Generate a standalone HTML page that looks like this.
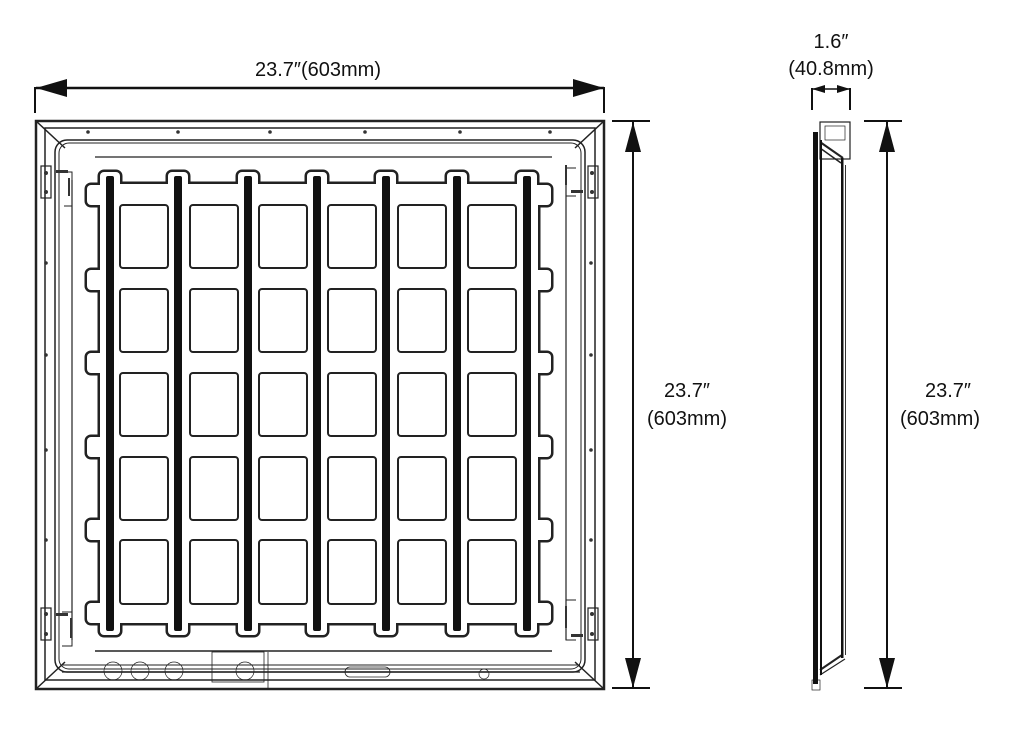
<!DOCTYPE html>
<html><head><meta charset="utf-8"><style>
html,body{margin:0;padding:0;background:#fff;}
svg{display:block;}
text{font-family:"Liberation Sans",sans-serif;font-size:20px;fill:#111;}
</style></head><body>
<svg width="1024" height="740" viewBox="0 0 1024 740" xmlns="http://www.w3.org/2000/svg">
<!-- top dimension -->
<text x="318" y="76" text-anchor="middle">23.7″(603mm)</text>
<line x1="36" y1="88" x2="604" y2="88" stroke="#111" stroke-width="2.5"/>
<polygon points="36,88 67,79 67,97" fill="#111"/>
<polygon points="604,88 573,79 573,97" fill="#111"/>
<line x1="35" y1="87" x2="35" y2="113" stroke="#111" stroke-width="2"/>
<line x1="604" y1="87" x2="604" y2="113" stroke="#111" stroke-width="2"/>

<!-- right dimension -->
<line x1="633" y1="122" x2="633" y2="688" stroke="#111" stroke-width="2"/>
<line x1="612" y1="121" x2="650" y2="121" stroke="#111" stroke-width="2"/>
<line x1="612" y1="688" x2="650" y2="688" stroke="#111" stroke-width="2"/>
<polygon points="633,122 625,152 641,152" fill="#111"/>
<polygon points="633,688 625,658 641,658" fill="#111"/>
<text x="687" y="397" text-anchor="middle">23.7″</text>
<text x="687" y="425" text-anchor="middle">(603mm)</text>

<!-- frame -->
<g fill="none" stroke="#222">
<rect x="36" y="121" width="568" height="568" stroke-width="2.5"/>
<rect x="45" y="128" width="550" height="552" stroke-width="1.5"/>
<line x1="36" y1="121" x2="65" y2="148" stroke-width="1.5"/>
<line x1="604" y1="121" x2="575" y2="148" stroke-width="1.5"/>
<line x1="36" y1="689" x2="65" y2="662" stroke-width="1.5"/>
<line x1="604" y1="689" x2="575" y2="662" stroke-width="1.5"/>
<rect x="55" y="140" width="530" height="532" rx="12" stroke-width="1.5"/>
<rect x="59" y="143" width="522" height="526" rx="10" stroke-width="1"/>
<line x1="95" y1="157" x2="552" y2="157" stroke-width="1.2"/>
<line x1="72" y1="180" x2="72" y2="640" stroke-width="1.2"/>
<line x1="566" y1="180" x2="566" y2="640" stroke-width="1.2"/>
<line x1="95" y1="651" x2="552" y2="651" stroke-width="1.5"/>
<line x1="62" y1="665" x2="580" y2="665" stroke-width="1"/>
<line x1="62" y1="672" x2="580" y2="672" stroke-width="1.2"/>
<line x1="70" y1="680" x2="570" y2="680" stroke-width="1"/>
<rect x="212" y="652" width="52" height="30" stroke-width="0.8"/>
<line x1="268" y1="652" x2="268" y2="688" stroke-width="0.8"/>
<circle cx="113" cy="671" r="9" stroke-width="0.7"/>
<circle cx="140" cy="671" r="9" stroke-width="0.7"/>
<circle cx="174" cy="671" r="9" stroke-width="0.7"/>
<circle cx="245" cy="671" r="9" stroke-width="0.7"/>
<rect x="345" y="667" width="45" height="10" rx="5" stroke-width="0.8"/>
<circle cx="484" cy="674" r="5" stroke-width="0.7"/>
<!-- brackets -->
<rect x="41" y="166" width="10" height="32" stroke-width="1.2"/>
<rect x="41" y="608" width="10" height="32" stroke-width="1.2"/>
<rect x="588" y="166" width="10" height="32" stroke-width="1.2"/>
<rect x="588" y="608" width="10" height="32" stroke-width="1.2"/>
<path d="M62 172 L72 172 L72 206 L64 206" stroke-width="1"/>
<path d="M576 168 L566 168 L566 196 L576 196" stroke-width="1"/>
<path d="M62 612 L72 612 L72 646 L62 646" stroke-width="1"/>
<path d="M576 600 L566 600 L566 640 L576 640" stroke-width="1"/>
</g>
<g fill="#333">
<circle cx="88" cy="132" r="1.8"/><circle cx="178" cy="132" r="1.8"/><circle cx="270" cy="132" r="1.8"/>
<circle cx="460" cy="132" r="1.8"/><circle cx="550" cy="132" r="1.8"/><circle cx="365" cy="132" r="1.8"/>
<circle cx="46" cy="263" r="1.8"/><circle cx="46" cy="355" r="1.8"/><circle cx="46" cy="450" r="1.8"/><circle cx="46" cy="540" r="1.8"/>
<circle cx="591" cy="263" r="1.8"/><circle cx="591" cy="355" r="1.8"/><circle cx="591" cy="450" r="1.8"/><circle cx="591" cy="540" r="1.8"/>
<circle cx="46" cy="173" r="2"/><circle cx="46" cy="192" r="2"/><circle cx="592" cy="173" r="2"/><circle cx="592" cy="192" r="2"/>
<circle cx="46" cy="614" r="2"/><circle cx="46" cy="634" r="2"/><circle cx="592" cy="614" r="2"/><circle cx="592" cy="634" r="2"/>
<rect x="56" y="170" width="12" height="3"/><rect x="571" y="190" width="12" height="3"/>
<rect x="56" y="613" width="12" height="3"/><rect x="571" y="634" width="12" height="3"/>
<rect x="68" y="178" width="2" height="18"/><rect x="565" y="165" width="2" height="20"/>
<rect x="70" y="618" width="2" height="20"/><rect x="565" y="606" width="2" height="22"/>
</g>

<!-- grid outline: union via stroke trick -->
<g id="gshape" stroke="#222" stroke-width="5" fill="#222">
<rect x="100" y="184" width="438" height="439" rx="6"/>
<rect x="100" y="172" width="20" height="463" rx="4"/>
<rect x="168" y="172" width="20" height="463" rx="4"/>
<rect x="238" y="172" width="20" height="463" rx="4"/>
<rect x="307" y="172" width="20" height="463" rx="4"/>
<rect x="376" y="172" width="20" height="463" rx="4"/>
<rect x="447" y="172" width="20" height="463" rx="4"/>
<rect x="517" y="172" width="20" height="463" rx="4"/>
<rect x="87" y="185" width="20" height="20" rx="4"/><rect x="87" y="270" width="20" height="20" rx="4"/>
<rect x="87" y="353" width="20" height="20" rx="4"/><rect x="87" y="437" width="20" height="20" rx="4"/>
<rect x="87" y="520" width="20" height="20" rx="4"/><rect x="87" y="603" width="20" height="20" rx="4"/>
<rect x="531" y="185" width="20" height="20" rx="4"/><rect x="531" y="270" width="20" height="20" rx="4"/>
<rect x="531" y="353" width="20" height="20" rx="4"/><rect x="531" y="437" width="20" height="20" rx="4"/>
<rect x="531" y="520" width="20" height="20" rx="4"/><rect x="531" y="603" width="20" height="20" rx="4"/>
</g>
<g fill="#fff">
<rect x="100" y="184" width="438" height="439" rx="6"/>
<rect x="100" y="172" width="20" height="463" rx="4"/>
<rect x="168" y="172" width="20" height="463" rx="4"/>
<rect x="238" y="172" width="20" height="463" rx="4"/>
<rect x="307" y="172" width="20" height="463" rx="4"/>
<rect x="376" y="172" width="20" height="463" rx="4"/>
<rect x="447" y="172" width="20" height="463" rx="4"/>
<rect x="517" y="172" width="20" height="463" rx="4"/>
<rect x="87" y="185" width="20" height="20" rx="4"/><rect x="87" y="270" width="20" height="20" rx="4"/>
<rect x="87" y="353" width="20" height="20" rx="4"/><rect x="87" y="437" width="20" height="20" rx="4"/>
<rect x="87" y="520" width="20" height="20" rx="4"/><rect x="87" y="603" width="20" height="20" rx="4"/>
<rect x="531" y="185" width="20" height="20" rx="4"/><rect x="531" y="270" width="20" height="20" rx="4"/>
<rect x="531" y="353" width="20" height="20" rx="4"/><rect x="531" y="437" width="20" height="20" rx="4"/>
<rect x="531" y="520" width="20" height="20" rx="4"/><rect x="531" y="603" width="20" height="20" rx="4"/>
</g>
<!-- bars -->
<g fill="#111">
<rect x="106" y="176" width="8" height="455" rx="2"/>
<rect x="174" y="176" width="8" height="455" rx="2"/>
<rect x="244" y="176" width="8" height="455" rx="2"/>
<rect x="313" y="176" width="8" height="455" rx="2"/>
<rect x="382" y="176" width="8" height="455" rx="2"/>
<rect x="453" y="176" width="8" height="455" rx="2"/>
<rect x="523" y="176" width="8" height="455" rx="2"/>
</g>
<!-- squares -->
<g fill="none" stroke="#222" stroke-width="2">
<g id="col">
<rect x="120" y="205" width="48" height="63" rx="3"/>
<rect x="120" y="289" width="48" height="63" rx="3"/>
<rect x="120" y="373" width="48" height="63" rx="3"/>
<rect x="120" y="457" width="48" height="63" rx="3"/>
<rect x="120" y="540" width="48" height="64" rx="3"/>
</g>
<use href="#col" x="70"/>
<use href="#col" x="139"/>
<use href="#col" x="208"/>
<use href="#col" x="278"/>
<use href="#col" x="348"/>
</g>

<!-- side view -->
<text x="831" y="48" text-anchor="middle">1.6″</text>
<text x="831" y="75" text-anchor="middle">(40.8mm)</text>
<line x1="812" y1="88" x2="812" y2="110" stroke="#111" stroke-width="2"/>
<line x1="850" y1="88" x2="850" y2="110" stroke="#111" stroke-width="2"/>
<line x1="812" y1="89" x2="850" y2="89" stroke="#111" stroke-width="1.5"/>
<polygon points="812,89 825,85 825,93" fill="#111"/>
<polygon points="850,89 837,85 837,93" fill="#111"/>
<g fill="none" stroke="#222">
<rect x="820" y="122" width="30" height="37" stroke-width="1.2"/>
<rect x="825" y="126" width="20" height="14" stroke-width="0.7"/>
<line x1="820" y1="142" x2="843" y2="158" stroke-width="2"/>
<line x1="820" y1="148" x2="841" y2="163" stroke-width="1.5"/>
<line x1="820" y1="670" x2="842" y2="655" stroke-width="2"/>
<line x1="820" y1="675" x2="845" y2="659" stroke-width="1.2"/>
<rect x="812" y="680" width="8" height="10" stroke-width="0.7"/>
</g>
<rect x="813" y="132" width="5" height="552" fill="#111"/>
<rect x="820" y="140" width="2" height="535" fill="#111"/>
<rect x="841" y="158" width="2.5" height="500" fill="#111"/>
<rect x="845" y="165" width="1" height="490" fill="#333"/>
<line x1="887" y1="122" x2="887" y2="688" stroke="#111" stroke-width="2"/>
<line x1="864" y1="121" x2="902" y2="121" stroke="#111" stroke-width="2"/>
<line x1="864" y1="688" x2="902" y2="688" stroke="#111" stroke-width="2"/>
<polygon points="887,122 879,152 895,152" fill="#111"/>
<polygon points="887,688 879,658 895,658" fill="#111"/>
<text x="948" y="397" text-anchor="middle">23.7″</text>
<text x="940" y="425" text-anchor="middle">(603mm)</text>
</svg>
</body></html>
